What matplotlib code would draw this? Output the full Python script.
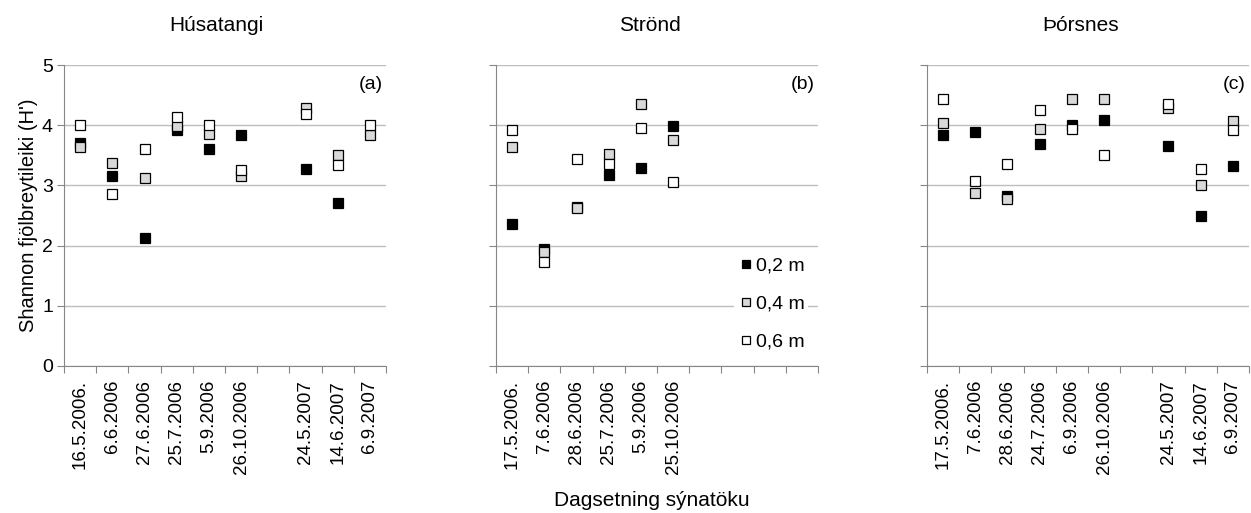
import numpy as np
import matplotlib
matplotlib.use("Agg")
import matplotlib.pyplot as plt

plt.rcParams['font.family'] = ['Liberation Sans', 'DejaVu Sans']

nan = np.nan

# Húsatangi
dates_a = ["16.5.2006.", "6.6.2006", "27.6.2006", "25.7.2006", "5.9.2006",
           "26.10.2006", "", "24.5.2007", "14.6.2007", "6.9.2007"]
a_02 = [3.71, 3.16, 2.12, 3.92, 3.60, 3.84, nan, 3.27, 2.71, nan]
a_04 = [3.63, 3.38, 3.12, 3.98, 3.85, 3.15, nan, 4.28, 3.50, 3.83]
a_06 = [4.00, 2.85, 3.60, 4.14, 4.00, 3.25, nan, 4.19, 3.34, 4.00]

# Strönd
dates_b = ["17.5.2006.", "7.6.2006", "28.6.2006", "25.7.2006", "5.9.2006",
           "25.10.2006", "", "", "", ""]
b_02 = [2.36, 1.94, 2.64, 3.17, 3.29, 3.99, nan, nan, nan, nan]
b_04 = [3.63, 1.90, 2.63, 3.52, 4.36, 3.75, nan, nan, nan, nan]
b_06 = [3.92, 1.72, 3.44, 3.35, 3.95, 3.05, nan, nan, nan, nan]

# Þórsnes
dates_c = ["17.5.2006.", "7.6.2006", "28.6.2006", "24.7.2006", "6.9.2006",
           "26.10.2006", "", "24.5.2007", "14.6.2007", "6.9.2007"]
c_02 = [3.83, 3.88, 2.83, 3.68, 4.00, 4.09, nan, 3.65, 2.49, 3.32]
c_04 = [4.03, 2.88, 2.78, 3.94, 4.43, 4.43, nan, 4.28, 3.00, 4.07]
c_06 = [4.43, 3.07, 3.36, 4.26, 3.94, 3.51, nan, 4.35, 3.27, 3.92]

titles = ["Húsatangi", "Strönd", "Þórsnes"]
tags = ["(a)", "(b)", "(c)"]
depths = ["0,2 m", "0,4 m", "0,6 m"]
colors = ["black", "#d9d9d9", "white"]

panels = [(dates_a, [a_02, a_04, a_06]),
          (dates_b, [b_02, b_04, b_06]),
          (dates_c, [c_02, c_04, c_06])]

W, H = 1251, 513
fig = plt.figure(figsize=(W / 100, H / 100), dpi=100)
lefts = [64, 496, 927]
title_x = [216, 650, 1081]
axes = []
for k, (dates, series) in enumerate(panels):
    ax = fig.add_axes([lefts[k] / W, 1 - 366 / H, 322 / W, 301 / H])
    axes.append(ax)
    x = np.arange(len(dates))
    for vals, col, lab in zip(series, colors, depths):
        ax.plot(x, vals, ls='none', marker='s', ms=7.8, mfc=col, mec='black',
                mew=0.9, label=lab, zorder=3)
    ax.set_xlim(-0.5, len(dates) - 0.5)
    ax.set_ylim(0, 5)
    ax.set_yticks(range(6))
    ax.yaxis.grid(True, color='#bdbdbd', lw=1)
    ax.set_axisbelow(True)
    # category boundaries as major ticks, labels on minor ticks
    ax.set_xticks(np.arange(-0.5, len(dates), 1.0))
    ax.set_xticklabels([])
    ax.set_xticks(x, minor=True)
    ax.set_xticklabels(dates, minor=True, rotation=90, fontsize=13.5)
    ax.tick_params(axis='x', which='minor', length=0, pad=10)
    ax.tick_params(axis='x', which='major', length=5, color='#868686')
    ax.tick_params(axis='y', length=5, color='#868686', labelsize=14, pad=3)
    for s in ['top', 'right']:
        ax.spines[s].set_visible(False)
    for s in ['left', 'bottom']:
        ax.spines[s].set_color('#868686')
    if k > 0:
        ax.set_yticklabels([])
    fig.text(title_x[k] / W, 1 - 31 / H, titles[k], ha='center',
             va='baseline', fontsize=15)
    ax.text(0.99, 0.935, tags[k], transform=ax.transAxes, ha='right',
            va='center', fontsize=14)

axes[0].set_ylabel("Shannon fjölbreytileiki (H')", fontsize=14.5, labelpad=3)

leg = axes[1].legend(loc='lower right', bbox_to_anchor=(1.0, 0.006),
                     frameon=True, fontsize=14, labelspacing=1.05,
                     handletextpad=0.05, handlelength=0.85, borderpad=0.2,
                     markerscale=0.8, fancybox=False)
leg.get_frame().set_facecolor('white')
leg.get_frame().set_edgecolor('none')
leg.get_frame().set_alpha(1)

fig.text(652 / W, 1 - 500 / H, "Dagsetning sýnatöku", ha='center',
         va='center', fontsize=15)

fig.savefig("out.png", dpi=100)
